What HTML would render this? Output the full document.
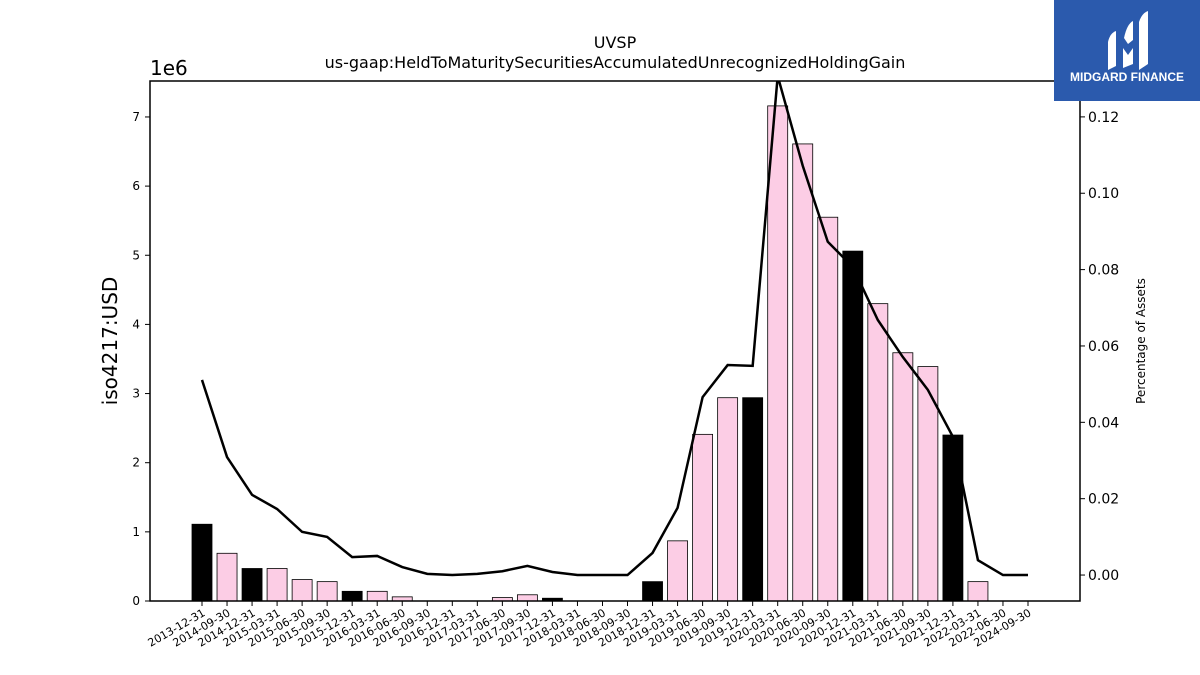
<!DOCTYPE html>
<html><head><meta charset="utf-8"><style>
body{margin:0;background:#fff;width:1200px;height:675px;overflow:hidden;font-family:"Liberation Sans","DejaVu Sans",sans-serif;}
svg{position:absolute;left:0;top:0}
</style></head><body>
<svg id="chart" width="1200" height="675" font-family="DejaVu Sans, Liberation Sans, sans-serif">
<text x="615" y="48" text-anchor="middle" font-size="16">UVSP</text>
<text x="615" y="68" text-anchor="middle" font-size="16">us-gaap:HeldToMaturitySecuritiesAccumulatedUnrecognizedHoldingGain</text>
<text x="150" y="75" font-size="20">1e6</text>
<text transform="translate(117,341) rotate(-90)" text-anchor="middle" font-size="20">iso4217:USD</text>
<text transform="translate(1145,341) rotate(-90)" text-anchor="middle" font-size="12">Percentage of Assets</text>
<g id="bars"></g><g id="line"></g><g id="axes"></g>
<rect x="150" y="81" width="930" height="520" fill="none" stroke="#000" stroke-width="1.5"/>
<g>
<rect x="1054" y="0" width="146" height="101" fill="#2b5aad"/>
<path d="M1108 70 L1108 42 Q1110 33 1116 31 L1116 66 Z" fill="#fff"/>
<path d="M1123 68 L1123 48 L1128 55 L1133 48 L1133 64 Z" fill="#fff"/>
<path d="M1124 38 Q1127 24 1133 21 L1133 40 L1128 44 Z" fill="#fff"/>
<path d="M1139 70 L1139 22 Q1142 13 1148 11 L1148 64 Z" fill="#fff"/>
<text x="1127" y="81" text-anchor="middle" font-size="12" font-weight="bold" fill="#fff" font-family="Liberation Sans, sans-serif">MIDGARD FINANCE</text>
</g>
</svg>
<script>
const categories=["2013-12-31","2014-09-30","2014-12-31","2015-03-31","2015-06-30","2015-09-30","2015-12-31","2016-03-31","2016-06-30","2016-09-30","2016-12-31","2017-03-31","2017-06-30","2017-09-30","2017-12-31","2018-03-31","2018-06-30","2018-09-30","2018-12-31","2019-03-31","2019-06-30","2019-09-30","2019-12-31","2020-03-31","2020-06-30","2020-09-30","2020-12-31","2021-03-31","2021-06-30","2021-09-30","2021-12-31","2022-03-31","2022-06-30","2024-09-30"];
const values=[1.11,0.69,0.47,0.47,0.31,0.28,0.14,0.14,0.06,0,0,0,0.05,0.09,0.04,0,0,0,0.28,0.87,2.41,2.94,2.94,7.16,6.61,5.55,5.06,4.30,3.59,3.39,2.40,0.28,0,0];
const pct=[0.0511,0.0309,0.0210,0.0173,0.0113,0.0100,0.0047,0.0050,0.0021,0.0003,0.0,0.0003,0.0010,0.0024,0.0008,0,0,0,0.0058,0.0176,0.0466,0.0550,0.0548,0.1307,0.1072,0.0873,0.0807,0.0668,0.0571,0.0485,0.0362,0.0039,0,0];
const leftTicks=[0,1,2,3,4,5,6,7];
const rightTicks=[0,0.02,0.04,0.06,0.08,0.10,0.12];
const NS="http://www.w3.org/2000/svg";
const L=150,R=1080,T=81,B=601;
const x=i=>202+i*(1028-202)/(categories.length-1);
const y=v=>B-v*(B-T)/7.52;
const y2min=-0.0068,y2max=0.1294;
const y2=v=>B-(v-y2min)*(B-T)/(y2max-y2min);
function mk(t,a,p){const e=document.createElementNS(NS,t);for(const k in a)e.setAttribute(k,a[k]);p.appendChild(e);return e;}
const gb=document.getElementById('bars'),gl=document.getElementById('line'),ga=document.getElementById('axes');
values.forEach((v,i)=>{
  const annual=categories[i].endsWith('12-31');
  const r=mk('rect',{x:x(i)-10,y:y(v),width:20,height:B-y(v),fill:annual?'#000':'#fccde5',stroke:'#000','stroke-width':0.8},gb);
  
  
  const tk=mk('line',{x1:x(i),x2:x(i),y1:B,y2:B+5,stroke:'#000'},ga);
  
  
  const t=mk('text',{x:x(i)+4,y:B+14,'font-size':11,'text-anchor':'end',transform:`rotate(-30 ${x(i)+4} ${B+14})`},ga);
  t.textContent=categories[i];
  
  
});
mk('clipPath',{id:'cp'},gl).appendChild(Object.assign(document.createElementNS(NS,'rect'),{}));
document.querySelector('#cp rect').setAttribute('x',L);document.querySelector('#cp rect').setAttribute('y',T);
document.querySelector('#cp rect').setAttribute('width',R-L);document.querySelector('#cp rect').setAttribute('height',B-T);
const pl=mk('polyline',{points:pct.map((v,i)=>x(i)+','+y2(v)).join(' '),fill:'none',stroke:'#000','stroke-width':2.5,'clip-path':'url(#cp)'},gl);


leftTicks.forEach(v=>{
  const tk=mk('line',{x1:L-5,x2:L,y1:y(v),y2:y(v),stroke:'#000'},ga);
  
  
  const t=mk('text',{x:L-10,y:y(v)+4,'font-size':12,'text-anchor':'end'},ga);
  t.textContent=v;
  
  
});
rightTicks.forEach(v=>{
  const tk=mk('line',{x1:R,x2:R+5,y1:y2(v),y2:y2(v),stroke:'#000'},ga);
  
  
  const t=mk('text',{x:R+8,y:y2(v)+5,'font-size':14},ga);
  t.textContent=v.toFixed(2);
  
  
});
</script>
</body></html>
